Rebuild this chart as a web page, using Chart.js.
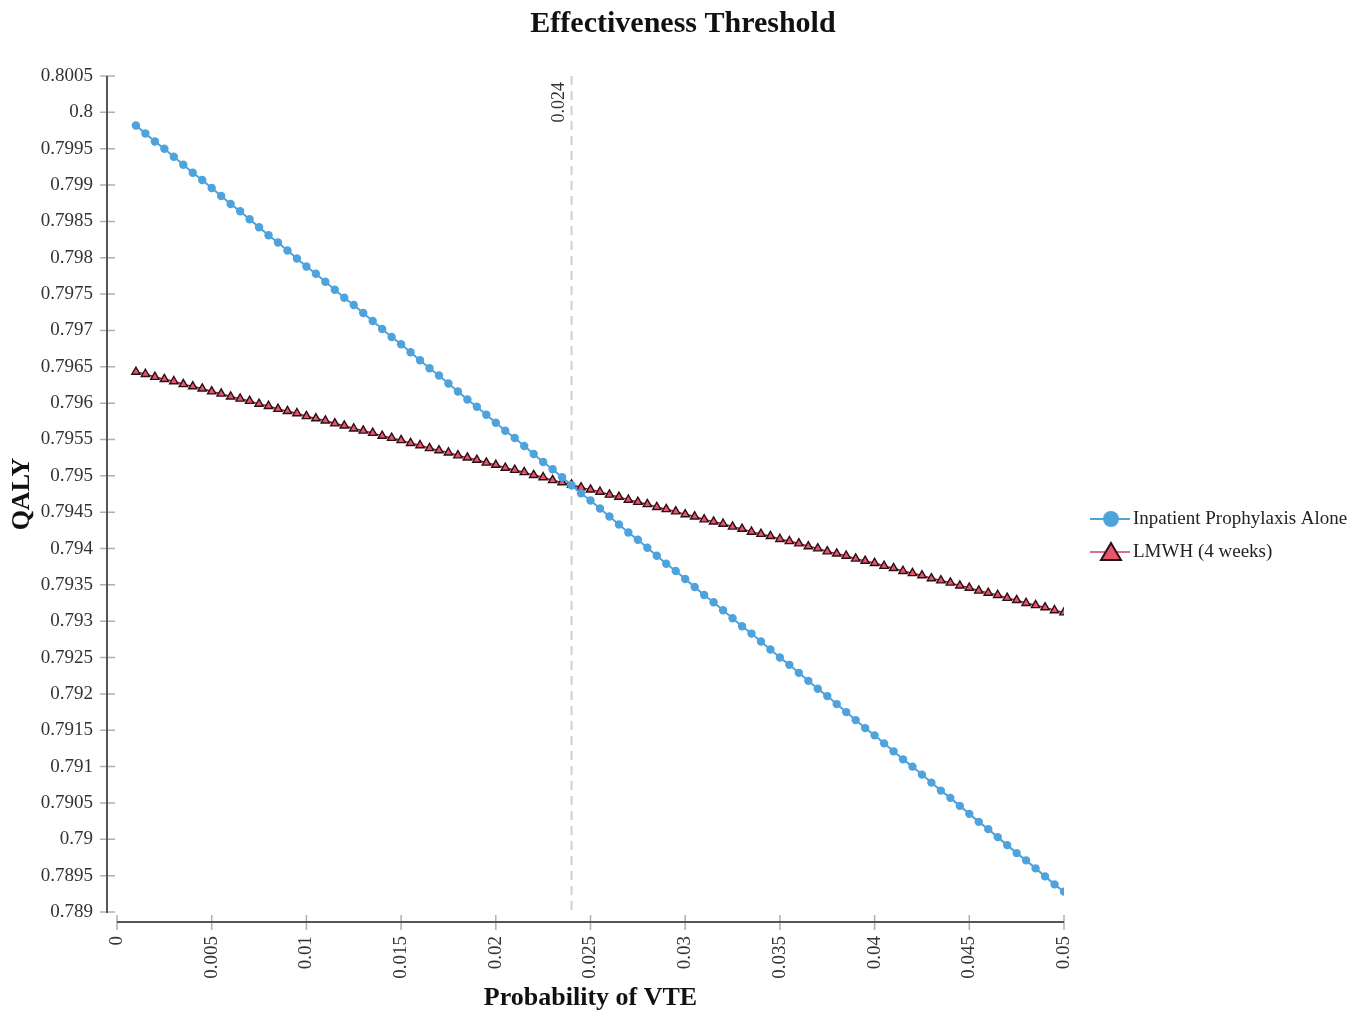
<!DOCTYPE html>
<html lang="en">
<head>
    <meta charset="UTF-8"/>
    <title>Effectiveness Threshold</title>
    <script src="https://cdn.jsdelivr.net/npm/chart.js"></script>
    <style>
        body { margin: 0; background: white; }
        .wrap { width: 1366px; height: 1020px; position: relative; }
    </style>
</head>
<body>
    <div class="wrap"><canvas id="chart" width="1366" height="1020"></canvas></div>

    <script>
        // probability of VTE (x) and QALY values
        const probVTE = [
            0.001, 0.0015, 0.002, 0.0025, 0.003, 0.0035, 0.004, 0.0045, 0.005, 0.0055,
            0.006, 0.0065, 0.007, 0.0075, 0.008, 0.0085, 0.009, 0.0095, 0.01, 0.0105,
            0.011, 0.0115, 0.012, 0.0125, 0.013, 0.0135, 0.014, 0.0145, 0.015, 0.0155,
            0.016, 0.0165, 0.017, 0.0175, 0.018, 0.0185, 0.019, 0.0195, 0.02, 0.0205,
            0.021, 0.0215, 0.022, 0.0225, 0.023, 0.0235, 0.024, 0.0245, 0.025, 0.0255,
            0.026, 0.0265, 0.027, 0.0275, 0.028, 0.0285, 0.029, 0.0295, 0.03, 0.0305,
            0.031, 0.0315, 0.032, 0.0325, 0.033, 0.0335, 0.034, 0.0345, 0.035, 0.0355,
            0.036, 0.0365, 0.037, 0.0375, 0.038, 0.0385, 0.039, 0.0395, 0.04, 0.0405,
            0.041, 0.0415, 0.042, 0.0425, 0.043, 0.0435, 0.044, 0.0445, 0.045, 0.0455,
            0.046, 0.0465, 0.047, 0.0475, 0.048, 0.0485, 0.049, 0.0495, 0.05
        ];
        const inpatientQaly = [
            0.79982, 0.79971, 0.79960, 0.79950, 0.79939, 0.79928, 0.79917, 0.79907, 0.79896, 0.79885,
            0.79874, 0.79864, 0.79853, 0.79842, 0.79831, 0.79821, 0.79810, 0.79799, 0.79788, 0.79778,
            0.79767, 0.79756, 0.79745, 0.79735, 0.79724, 0.79713, 0.79702, 0.79691, 0.79681, 0.79670,
            0.79659, 0.79648, 0.79638, 0.79627, 0.79616, 0.79605, 0.79595, 0.79584, 0.79573, 0.79562,
            0.79552, 0.79541, 0.79530, 0.79519, 0.79509, 0.79498, 0.79487, 0.79476, 0.79466, 0.79455,
            0.79444, 0.79433, 0.79422, 0.79412, 0.79401, 0.79390, 0.79379, 0.79369, 0.79358, 0.79347,
            0.79336, 0.79326, 0.79315, 0.79304, 0.79293, 0.79283, 0.79272, 0.79261, 0.79250, 0.79240,
            0.79229, 0.79218, 0.79207, 0.79197, 0.79186, 0.79175, 0.79164, 0.79153, 0.79143, 0.79132,
            0.79121, 0.79110, 0.79100, 0.79089, 0.79078, 0.79067, 0.79057, 0.79046, 0.79035, 0.79024,
            0.79014, 0.79003, 0.78992, 0.78981, 0.78971, 0.78960, 0.78949, 0.78938, 0.78928
        ];
        const lmwhQaly = [
            0.79643, 0.79640, 0.79636, 0.79633, 0.79630, 0.79626, 0.79623, 0.79620, 0.79616, 0.79613,
            0.79609, 0.79606, 0.79603, 0.79599, 0.79596, 0.79592, 0.79589, 0.79586, 0.79582, 0.79579,
            0.79576, 0.79572, 0.79569, 0.79565, 0.79562, 0.79559, 0.79555, 0.79552, 0.79549, 0.79545,
            0.79542, 0.79538, 0.79535, 0.79532, 0.79528, 0.79525, 0.79522, 0.79518, 0.79515, 0.79511,
            0.79508, 0.79505, 0.79501, 0.79498, 0.79494, 0.79491, 0.79488, 0.79484, 0.79481, 0.79478,
            0.79474, 0.79471, 0.79467, 0.79464, 0.79461, 0.79457, 0.79454, 0.79451, 0.79447, 0.79444,
            0.79440, 0.79437, 0.79434, 0.79430, 0.79427, 0.79423, 0.79420, 0.79417, 0.79413, 0.79410,
            0.79407, 0.79403, 0.79400, 0.79396, 0.79393, 0.79390, 0.79386, 0.79383, 0.79380, 0.79376,
            0.79373, 0.79369, 0.79366, 0.79363, 0.79359, 0.79356, 0.79353, 0.79349, 0.79346, 0.79342,
            0.79339, 0.79336, 0.79332, 0.79329, 0.79325, 0.79322, 0.79319, 0.79315, 0.79312
        ];
        const seriesNames = ['Inpatient Prophylaxis Alone', 'LMWH (4 weeks)'];
        const thresholdX = 0.024;
        const thresholdLabel = '0.024';

        const SERIF = '"Liberation Serif", "Times New Roman", serif';
        const BLUE = '#4ea3dc';
        const PINK = '#e8566a';
        const DARK = '#2e0f16';

        const fmt = v => String(+Number(v).toFixed(4));

        // offset axis lines + cross ticks, dashed threshold line, legend
        const decor = {
            id: 'decor',
            beforeDatasetsDraw(chart) {
                const c = chart.ctx, xs = chart.scales.x;
                const a = chart.chartArea;
                const tx = xs.getPixelForValue(thresholdX);
                c.save();
                c.strokeStyle = '#cfcfcf';
                c.lineWidth = 2;
                c.setLineDash([9, 6]);
                c.beginPath();
                c.moveTo(tx, a.top);
                c.lineTo(tx, a.bottom + 3);
                c.stroke();
                c.setLineDash([]);
                c.fillStyle = '#333';
                c.font = '18px ' + SERIF;
                c.translate(tx - 12, a.top + 6);
                c.rotate(-Math.PI / 2);
                c.textAlign = 'right';
                c.textBaseline = 'middle';
                c.fillText(thresholdLabel, 0, 0);
                c.restore();
            },
            afterDraw(chart) {
                const c = chart.ctx, xs = chart.scales.x, ys = chart.scales.y;
                const a = chart.chartArea;
                const axX = a.left - 10, axY = a.bottom + 10;
                c.save();
                // tick marks
                c.strokeStyle = '#b0b0b0';
                c.lineWidth = 1.5;
                c.beginPath();
                ys.ticks.forEach(t => {
                    const py = ys.getPixelForValue(t.value);
                    c.moveTo(axX - 7, py);
                    c.lineTo(axX + 8, py);
                });
                xs.ticks.forEach(t => {
                    const px = xs.getPixelForValue(t.value);
                    c.moveTo(px, axY - 7);
                    c.lineTo(px, axY + 8);
                });
                c.stroke();
                // axis lines
                c.strokeStyle = '#555';
                c.lineWidth = 2;
                c.beginPath();
                c.moveTo(axX, a.top);
                c.lineTo(axX, a.bottom + 1);
                c.moveTo(a.left, axY);
                c.lineTo(a.right, axY);
                c.stroke();

                // legend
                const lx = 1090, ix = 1111;
                const rows = [519, 552];
                c.lineWidth = 2;
                c.strokeStyle = BLUE;
                c.beginPath();
                c.moveTo(lx, rows[0]);
                c.lineTo(lx + 40, rows[0]);
                c.stroke();
                c.fillStyle = BLUE;
                c.beginPath();
                c.arc(ix, rows[0], 8, 0, Math.PI * 2);
                c.fill();

                c.strokeStyle = '#d87088';
                c.beginPath();
                c.moveTo(lx, rows[1]);
                c.lineTo(lx + 40, rows[1]);
                c.stroke();
                c.fillStyle = PINK;
                c.strokeStyle = DARK;
                c.lineWidth = 2;
                c.beginPath();
                c.moveTo(ix, rows[1] - 9);
                c.lineTo(ix + 10, rows[1] + 8);
                c.lineTo(ix - 10, rows[1] + 8);
                c.closePath();
                c.fill();
                c.stroke();

                c.fillStyle = '#222';
                c.font = '19px ' + SERIF;
                c.textAlign = 'left';
                c.textBaseline = 'middle';
                seriesNames.forEach((n, i) => c.fillText(n, 1133, rows[i]));
                c.restore();
            }
        };

        const ctx = document.getElementById('chart').getContext('2d');
        new Chart(ctx, {
            type: 'line',
            data: {
                datasets: [
                    {
                        label: seriesNames[0],
                        data: probVTE.map((x, i) => ({ x: x, y: inpatientQaly[i] })),
                        borderColor: BLUE,
                        borderWidth: 2,
                        pointStyle: 'circle',
                        pointRadius: 4.2,
                        pointBackgroundColor: BLUE,
                        pointBorderWidth: 0,
                        fill: false,
                        tension: 0
                    },
                    {
                        label: seriesNames[1],
                        data: probVTE.map((x, i) => ({ x: x, y: lmwhQaly[i] })),
                        borderColor: '#8a2032',
                        borderWidth: 1.5,
                        pointStyle: 'triangle',
                        pointRadius: 4.8,
                        pointBackgroundColor: PINK,
                        pointBorderColor: DARK,
                        pointBorderWidth: 1.4,
                        fill: false,
                        tension: 0
                    }
                ]
            },
            options: {
                responsive: false,
                animation: false,
                plugins: {
                    legend: { display: false },
                    tooltip: { enabled: false },
                    title: {
                        display: true,
                        text: 'Effectiveness Threshold',
                        color: '#111',
                        font: { family: SERIF, size: 30, weight: 'bold' },
                        padding: { top: 6, bottom: 34 }
                    }
                },
                scales: {
                    x: {
                        type: 'linear',
                        min: 0,
                        max: 0.05,
                        grid: { display: false, drawTicks: false },
                        border: { display: false },
                        ticks: {
                            stepSize: 0.005,
                            minRotation: 90,
                            maxRotation: 90,
                            padding: 24,
                            color: '#333',
                            font: { family: SERIF, size: 19 },
                            callback: fmt
                        },
                        title: {
                            display: true,
                            text: 'Probability of VTE',
                            color: '#111',
                            font: { family: SERIF, size: 26, weight: 'bold' },
                            padding: { top: 4, bottom: 6 }
                        },
                        afterFit: s => { s.height = 108; }
                    },
                    y: {
                        type: 'linear',
                        min: 0.789,
                        max: 0.8005,
                        grid: { display: false, drawTicks: false },
                        border: { display: false },
                        ticks: {
                            stepSize: 0.0005,
                            padding: 24,
                            color: '#333',
                            font: { family: SERIF, size: 19 },
                            callback: fmt
                        },
                        title: {
                            display: true,
                            text: 'QALY',
                            color: '#111',
                            font: { family: SERIF, size: 26, weight: 'bold' },
                            padding: { top: 7, bottom: 4 }
                        },
                        afterFit: s => { s.width = 117; }
                    },
                    // empty box on the right that keeps room for the legend
                    legendSpace: {
                        type: 'linear',
                        position: 'right',
                        min: 0,
                        max: 1,
                        grid: { display: false, drawTicks: false },
                        border: { display: false },
                        ticks: { display: false },
                        afterFit: s => { s.width = 302; }
                    }
                }
            },
            plugins: [decor]
        });
    </script>
</body>
</html>
